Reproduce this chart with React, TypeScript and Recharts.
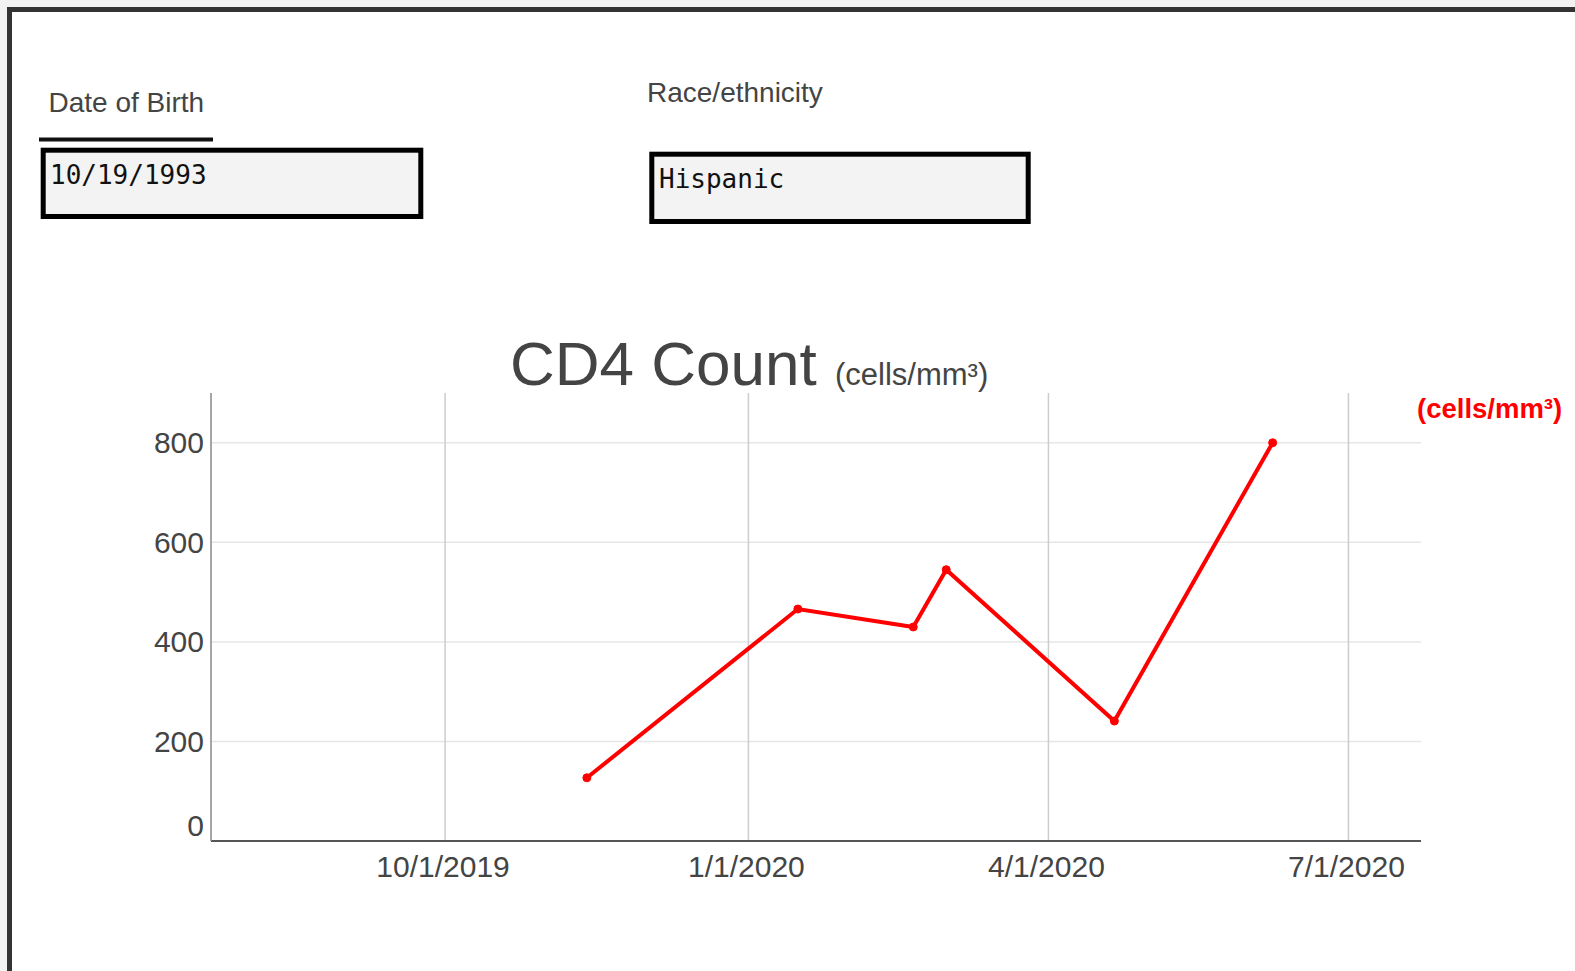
import { LineChart, Line, XAxis, YAxis, CartesianGrid } from 'recharts';

const d = (y: number, m: number, day: number) => Date.UTC(y, m - 1, day);

const TEST_DATES = [d(2019, 11, 13), d(2020, 1, 16), d(2020, 2, 20), d(2020, 3, 1), d(2020, 4, 21), d(2020, 6, 8)];
const CD4_VALUES = [127, 466, 430, 545, 241, 800];
const X_TICKS = [d(2019, 10, 1), d(2020, 1, 1), d(2020, 4, 1), d(2020, 7, 1)];
const X_DOMAIN = [d(2019, 7, 22), d(2020, 7, 23)];
const Y_TICKS = [0, 200, 400, 600, 800];
const Y_DOMAIN = [0, 900];

const DATE_OF_BIRTH = '10/19/1993';
const RACE = 'Hispanic';

const SANS = "'Liberation Sans', Arial, sans-serif";
const MONO = "'DejaVu Sans Mono', monospace";
const TEXT = '#444';

const fmtDate = (t: number) => {
  const dt = new Date(t);
  return `${dt.getUTCMonth() + 1}/${dt.getUTCDate()}/${dt.getUTCFullYear()}`;
};

function YTick({ x, y, payload }: any) {
  // plotly nudges the zero label up off the axis line
  const dy = payload.value === 0 ? -5 : 10.5;
  return (
    <text x={x} y={y} dy={dy} textAnchor="end" fontSize={30} fill={TEXT} fontFamily={SANS}>
      {payload.value}
    </text>
  );
}

function XTick({ x, y, payload }: any) {
  return (
    <text x={x - 2} y={y} dy={36} textAnchor="middle" fontSize={30} fill={TEXT} fontFamily={SANS}>
      {fmtDate(payload.value)}
    </text>
  );
}

export default function App() {
  const data = TEST_DATES.map((t, i) => ({ date: t, cd4: CD4_VALUES[i] }));

  return (
    <div
      style={{
        position: 'absolute',
        left: 0,
        top: 0,
        width: 1575,
        height: 971,
        overflow: 'hidden',
        background: '#f2f2f2',
      }}
    >
      {/* page frame */}
      <div
        style={{
          position: 'absolute',
          left: 7,
          top: 7,
          width: 1600,
          height: 1000,
          background: '#fff',
          borderTop: '5px solid #333',
          borderLeft: '5px solid #333',
        }}
      />

      <svg width={1575} height={971} style={{ position: 'absolute', left: 0, top: 0 }}>
        <text x={48.5} y={111.5} fontSize={28} fill={TEXT} fontFamily={SANS}>
          Date of Birth
        </text>
        <rect x={39} y={137.5} width={174} height={4} fill="#111" />
        <rect x={43.2} y={150.2} width={377.6} height={66.3} fill="#f3f3f3" stroke="#000" strokeWidth={5} />
        <text x={50} y={184.3} fontSize={26} fill="#111" fontFamily={MONO}>
          {DATE_OF_BIRTH}
        </text>

        <text x={647} y={102} fontSize={28} fill={TEXT} fontFamily={SANS}>
          Race/ethnicity
        </text>
        <rect x={651.8} y={154.2} width={376.4} height={67.3} fill="#f3f3f3" stroke="#000" strokeWidth={5} />
        <text x={659} y={187.7} fontSize={26} fill="#111" fontFamily={MONO}>
          {RACE}
        </text>

        <text x={510} y={385.4} fontSize={62} fill={TEXT} fontFamily={SANS}>
          CD4 Count
        </text>
        <text x={835} y={385.4} fontSize={31} fill={TEXT} fontFamily={SANS}>
          (cells/mm³)
        </text>
        <text x={1417} y={418} fontSize={27.5} fontWeight="bold" fill="#ff0000" fontFamily={SANS}>
          (cells/mm³)
        </text>
      </svg>

      <div style={{ position: 'absolute', left: 0, top: 300 }}>
        <LineChart width={1575} height={620} data={data} margin={{ top: 93, right: 154, bottom: 29, left: 131 }}>
          <CartesianGrid vertical={false} syncWithTicks stroke="#e6e6e6" strokeWidth={1.5} />
          <CartesianGrid horizontal={false} syncWithTicks stroke="#cccccc" strokeWidth={1.5} />
          <XAxis
            dataKey="date"
            type="number"
            domain={X_DOMAIN}
            ticks={X_TICKS}
            interval={0}
            allowDataOverflow
            height={50}
            tickSize={0}
            tickMargin={0}
            tick={<XTick />}
            stroke="#555"
            strokeWidth={2}
          />
          <YAxis
            type="number"
            domain={Y_DOMAIN}
            ticks={Y_TICKS}
            interval={0}
            allowDataOverflow
            width={80}
            tickSize={0}
            tickMargin={7}
            tick={<YTick />}
            stroke="#888"
            strokeWidth={1.5}
          />
          <Line
            type="linear"
            dataKey="cd4"
            stroke="#ff0000"
            strokeWidth={4}
            dot={{ r: 4, fill: '#ff0000', stroke: '#ff0000', strokeWidth: 1 }}
            activeDot={false}
            isAnimationActive={false}
          />
        </LineChart>
      </div>
    </div>
  );
}
